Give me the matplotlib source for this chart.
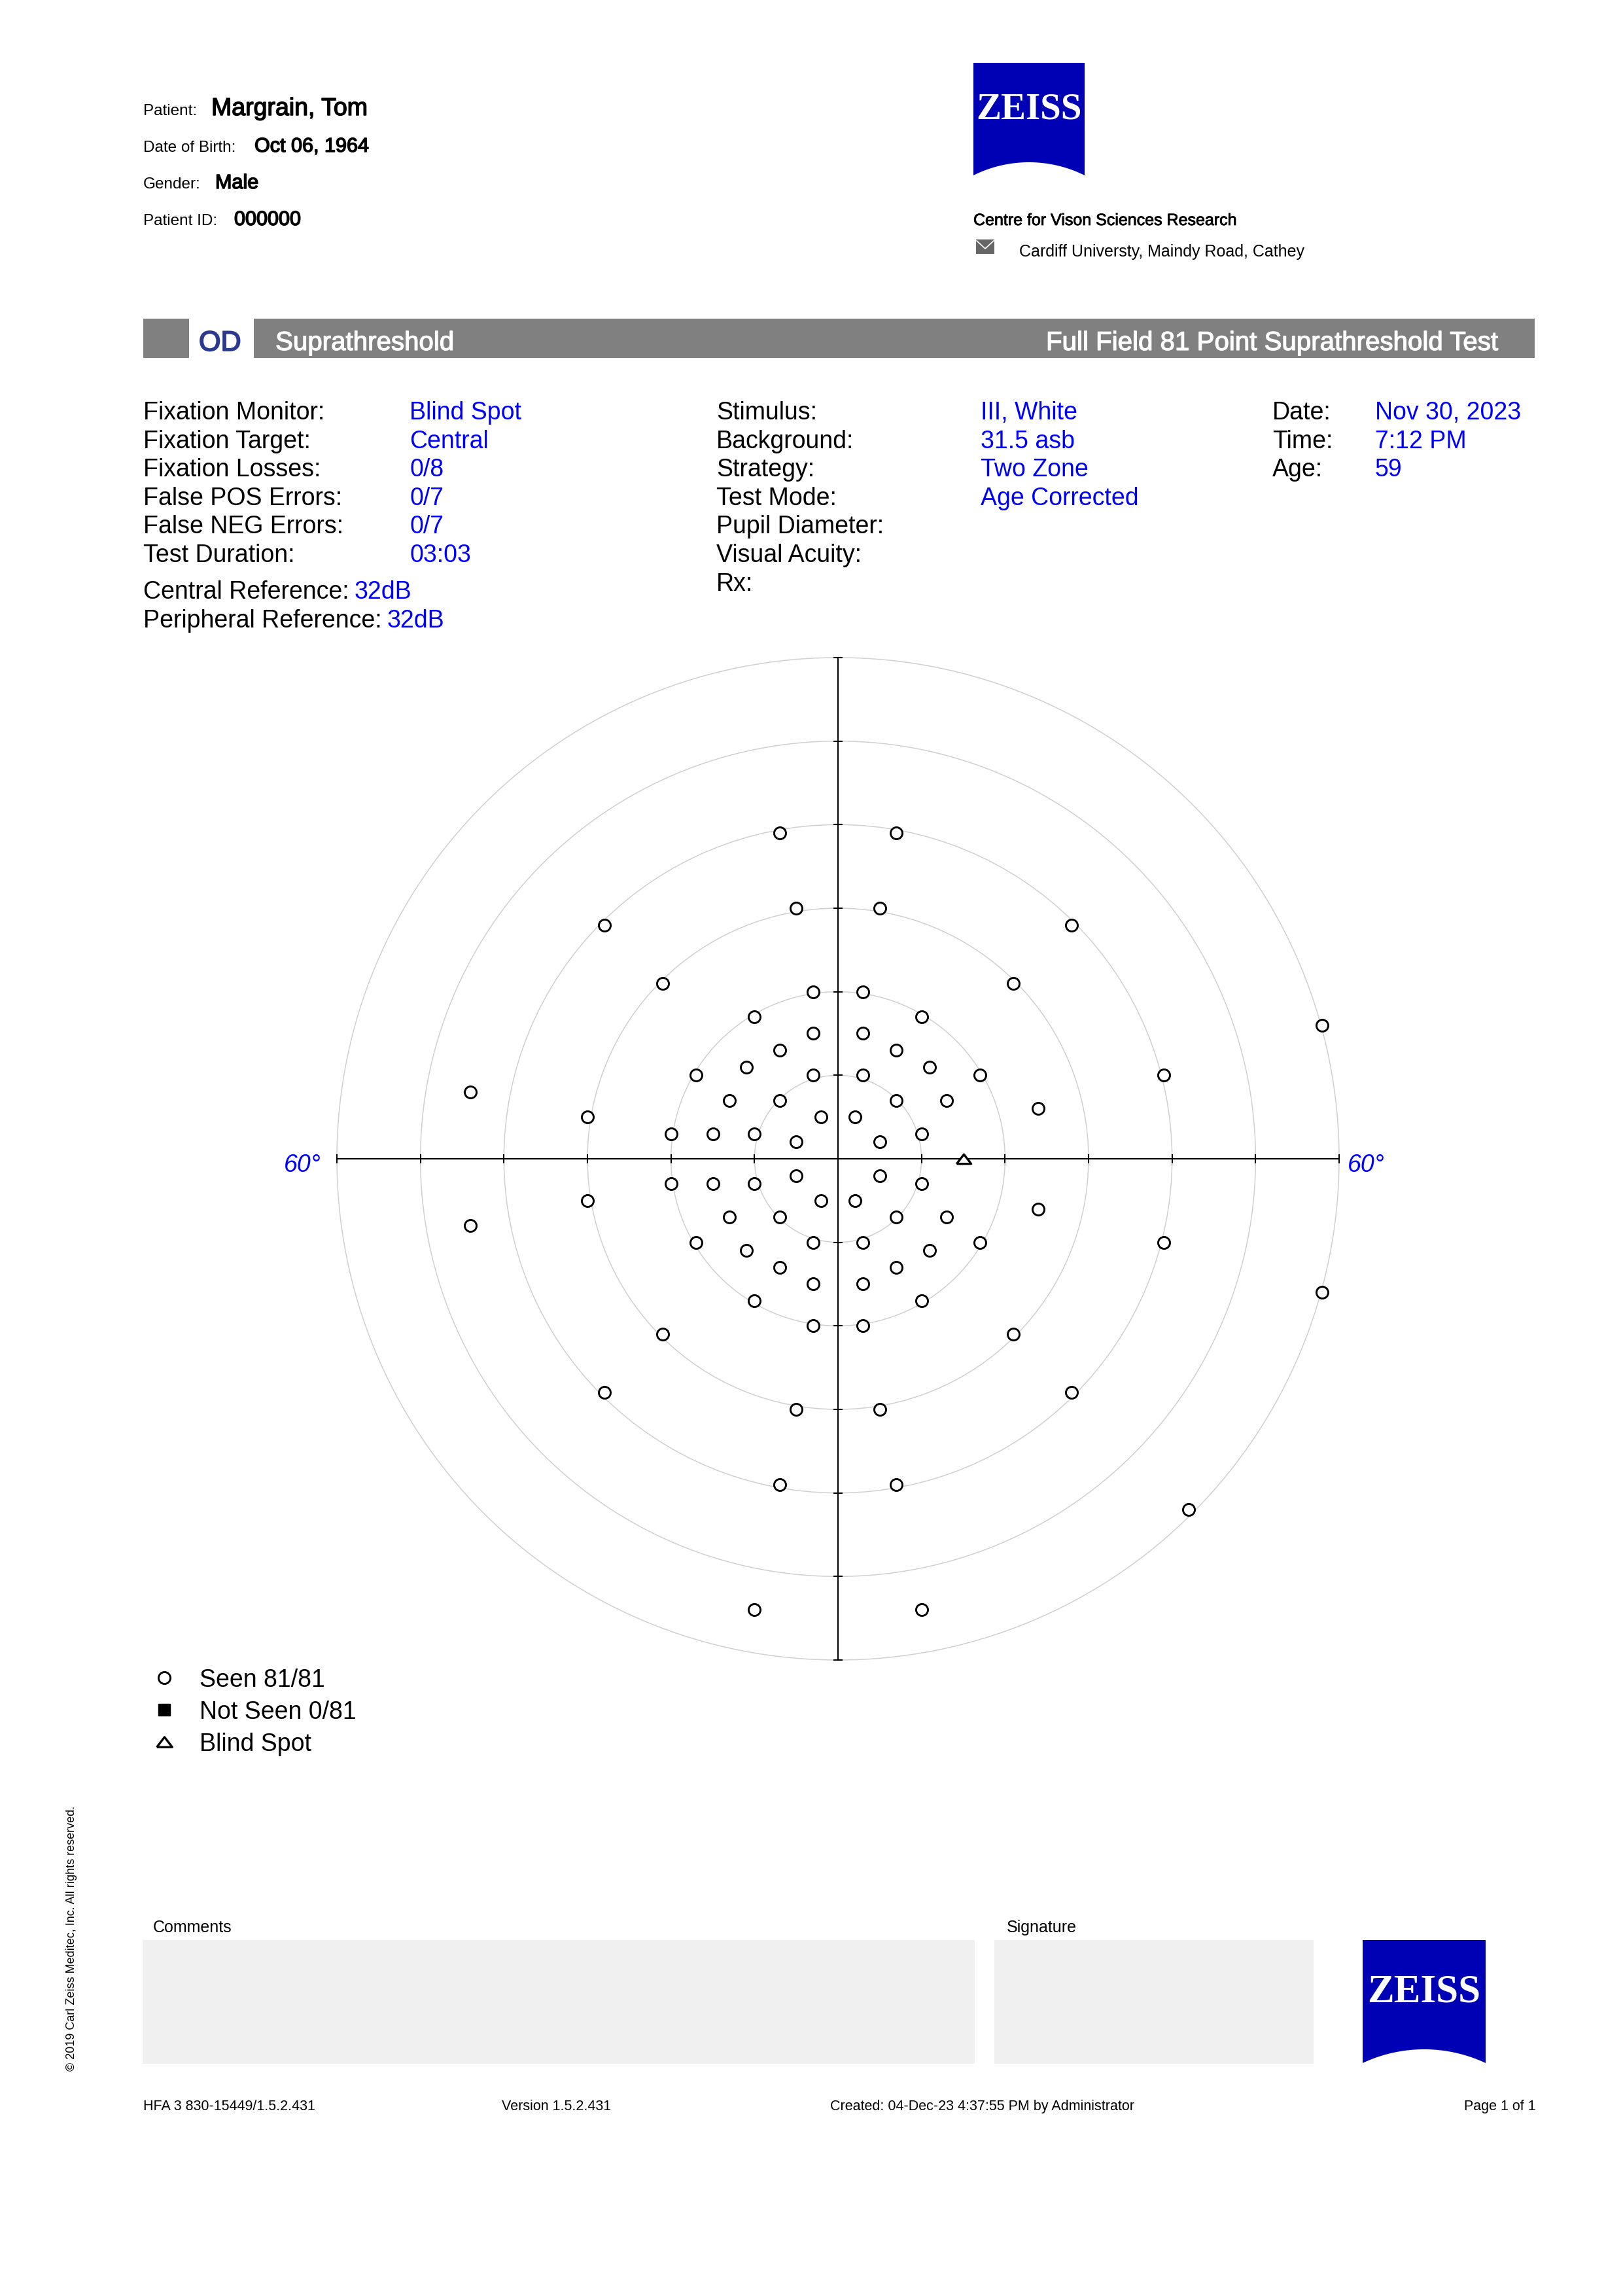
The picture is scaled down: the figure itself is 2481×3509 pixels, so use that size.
import numpy as np
import matplotlib
matplotlib.use("Agg")
import matplotlib.pyplot as plt
import matplotlib.patheffects as pe
from matplotlib.patches import Rectangle, Polygon, Circle

plt.rcParams['font.family'] = ['Liberation Sans', 'DejaVu Sans']

W, H = 2481, 3509
VAL_BLUE = '#0000ff'
ZEISS_BLUE = '#0000b4'
BAR_GREY = '#808080'
OD_BLUE = '#2b3a8f'

# --- report data ---
patient_labels = ["Patient:", "Date of Birth:", "Gender:", "Patient ID:"]
patient_values = ["Margrain, Tom", "Oct 06, 1964", "Male", "000000"]

centre_name = "Centre for Vison Sciences Research"
centre_addr = "Cardiff Universty, Maindy Road, Cathey"

eye = "OD"
test_type = "Suprathreshold"
test_name = "Full Field 81 Point Suprathreshold Test"

col1_labels = ["Fixation Monitor:", "Fixation Target:", "Fixation Losses:",
               "False POS Errors:", "False NEG Errors:", "Test Duration:"]
col1_values = ["Blind Spot", "Central", "0/8", "0/7", "0/7", "03:03"]
col2_labels = ["Stimulus:", "Background:", "Strategy:", "Test Mode:",
               "Pupil Diameter:", "Visual Acuity:", "Rx:"]
col2_values = ["III, White", "31.5 asb", "Two Zone", "Age Corrected", "", "", ""]
col3_labels = ["Date:", "Time:", "Age:"]
col3_values = ["Nov 30, 2023", "7:12 PM", "59"]
ref_labels = ["Central Reference:", "Peripheral Reference:"]
ref_values = ["32dB", "32dB"]

# test point locations in degrees (all seen)
seen_x = [-5, -2, -10, -15, -20, -7, -13, -3, -11, -17, -7, -3, -10, -3, -21,
          5, 2, 10, 7, 13, 3, 11, 17, 7, 3, 10, 3, 21,
          -5, -2, -10, -15, -20, -7, -13, -3, -11, -17, -7, -3, -10, -3, -21,
          5, 2, 10, 7, 13, 3, 11, 17, 7, 3, 10, 3, 21,
          -7, 7, -5, 5, -28, 28, 58, -44, 39, 24, -30,
          -30, 24, -44, 39, 58, -28, 28, -5, 5, -7, 7, 42, -10, 10]
seen_y = [2, 5, 3, 3, 3, 7, 7, 10, 11, 10, 13, 15, 17, 20, 21,
          2, 5, 3, 7, 7, 10, 11, 10, 13, 15, 17, 20, 21,
          -2, -5, -3, -3, -3, -7, -7, -10, -11, -10, -13, -15, -17, -20, -21,
          -2, -5, -3, -7, -7, -10, -11, -10, -13, -15, -17, -20, -21,
          39, 39, 30, 30, 28, 28, 16, 8, 10, 6, 5,
          -5, -6, -8, -10, -16, -28, -28, -30, -30, -39, -39, -42, -54, -54]
blind_x = [15]
blind_y = [0]
ring_radii = [10, 20, 30, 40, 50, 60]

legend_labels = ["Seen 81/81", "Not Seen 0/81", "Blind Spot"]
footer = ["HFA 3 830-15449/1.5.2.431", "Version 1.5.2.431",
          "Created: 04-Dec-23 4:37:55 PM by Administrator", "Page 1 of 1"]
copyright_txt = "\u00a9 2019 Carl Zeiss Meditec, Inc. All rights reserved."

TRI = [(-1, -0.65), (1, -0.65), (0, 0.65), (-1, -0.65)]


def heavy(color, w):
    # slightly heavier glyphs, like the printed report
    return [pe.withStroke(linewidth=w, foreground=color)]


def zeiss_logo(ax, x0, y0, w, h, arc_h, base_y, fs):
    c = w / 2
    R = (c ** 2 + arc_h ** 2) / (2 * arc_h)
    cx, cy = x0 + c, y0 + h - arc_h + R
    xs = np.linspace(x0 + w, x0, 80)
    ys = cy - np.sqrt(np.clip(R ** 2 - (xs - cx) ** 2, 0, None))
    verts = [(x0, y0), (x0 + w, y0)] + list(zip(xs, ys))
    ax.add_patch(Polygon(verts, closed=True, fc=ZEISS_BLUE, ec='none'))
    ax.text(cx, base_y, "ZEISS", color='white', fontsize=fs, fontweight='bold',
            family='Liberation Serif', ha='center', va='baseline')


fig = plt.figure(figsize=(W / 100, H / 100), dpi=100)
page = fig.add_axes([0, 0, 1, 1])
page.set_xlim(0, W)
page.set_ylim(H, 0)
page.axis('off')

# header: patient block
hdr_base = [176, 232, 288, 344]
hdr_val_x = [323, 389, 329, 358]
hdr_val_fs = [27, 22, 22, 22]
for i in range(4):
    page.text(219, hdr_base[i], patient_labels[i], fontsize=17.5, va='baseline')
    page.text(hdr_val_x[i], hdr_base[i], patient_values[i], fontsize=hdr_val_fs[i],
              va='baseline', path_effects=heavy('black', 1.1))

zeiss_logo(page, 1488, 96, 170, 172, 20, 182, 41)
page.text(1488, 344, centre_name, fontsize=18, va='baseline', path_effects=heavy('black', 0.6))
page.add_patch(Rectangle((1492, 366), 28, 22, fc='#666666', ec='none'))
page.plot([1493, 1506, 1519], [368, 380, 368], color='white', lw=1.2)
page.text(1558, 392, centre_addr, fontsize=18, va='baseline')

# title bar
page.add_patch(Rectangle((219, 487), 70, 60, fc=BAR_GREY, ec='none'))
page.add_patch(Rectangle((388, 487), 1958, 60, fc=BAR_GREY, ec='none'))
page.text(304, 536, eye, fontsize=31, color=OD_BLUE, va='baseline',
          path_effects=heavy(OD_BLUE, 1.3))
page.text(421, 535, test_type, fontsize=29, color='white', va='baseline',
          path_effects=heavy('white', 0.9))
page.text(2290, 535, test_name, fontsize=29, color='white', va='baseline', ha='right',
          path_effects=heavy('white', 0.9))

# test parameters
row0, dy = 641, 43.6
for i, (lab, val) in enumerate(zip(col1_labels, col1_values)):
    page.text(219, row0 + i * dy, lab, fontsize=27, va='baseline')
    page.text(626, row0 + i * dy, val, fontsize=27, va='baseline', color=VAL_BLUE)
for i, (lab, val) in enumerate(zip(col2_labels, col2_values)):
    page.text(1095, row0 + i * dy, lab, fontsize=27, va='baseline')
    page.text(1499, row0 + i * dy, val, fontsize=27, va='baseline', color=VAL_BLUE)
for i, (lab, val) in enumerate(zip(col3_labels, col3_values)):
    page.text(1945, row0 + i * dy, lab, fontsize=27, va='baseline')
    page.text(2102, row0 + i * dy, val, fontsize=27, va='baseline', color=VAL_BLUE)
for i, (lab, val) in enumerate(zip(ref_labels, ref_values)):
    t = page.text(219, 915 + i * 44, lab, fontsize=27, va='baseline')
    page.annotate(val, xy=(1, 0), xycoords=t, xytext=(6, 0), textcoords='offset points',
                  fontsize=27, color=VAL_BLUE, va='bottom', ha='left')

# visual field plot
cx, cy, rad = 1281, 1771, 766
ax = fig.add_axes([(cx - rad) / W, (H - cy - rad) / H, 2 * rad / W, 2 * rad / H])
ax.set_xlim(-60, 60)
ax.set_ylim(-60, 60)
ax.patch.set_alpha(0)
for r in ring_radii:
    ax.add_patch(Circle((0, 0), r, fill=False, ec='#d0d0d0', lw=1.1, clip_on=False))
for s in ['top', 'right']:
    ax.spines[s].set_visible(False)
for s in ['left', 'bottom']:
    ax.spines[s].set_position('zero')
    ax.spines[s].set_linewidth(1.5)
ticks = [-60, -50, -40, -30, -20, -10, 10, 20, 30, 40, 50, 60]
ax.set_xticks(ticks)
ax.set_yticks(ticks)
ax.tick_params(direction='inout', length=9.5, width=1.5, labelbottom=False, labelleft=False)
ax.plot(seen_x, seen_y, ls='none', marker='o', ms=13, mfc='white', mec='black', mew=2.1,
        clip_on=False, zorder=5)
ax.plot(blind_x, blind_y, ls='none', marker=TRI, ms=16, mfc='white', mec='black', mew=2.4,
        clip_on=False, zorder=5)

page.text(491, 1791, "60\u00b0", fontsize=27, style='italic', color=VAL_BLUE, ha='right', va='baseline')
page.text(2060, 1791, "60\u00b0", fontsize=27, style='italic', color=VAL_BLUE, ha='left', va='baseline')

# legend
leg_y = [2564, 2613, 2662]
page.plot([251], [leg_y[0]], marker='o', ms=13, mfc='white', mec='black', mew=2.1)
page.plot([251], [leg_y[1]], marker='s', ms=13, mfc='black', mec='black', mew=1)
page.plot([251], [leg_y[2]], marker=TRI, ms=17, mfc='white', mec='black', mew=2.4)
for y, lab in zip(leg_y, legend_labels):
    page.text(305, y + 13.5, lab, fontsize=27, va='baseline')

# comments / signature
page.text(234, 2953, "Comments", fontsize=18, va='baseline')
page.text(1539, 2953, "Signature", fontsize=18, va='baseline')
page.add_patch(Rectangle((218, 2965), 1272, 189, fc='#f0f0f0', ec='none'))
page.add_patch(Rectangle((1520, 2965), 488, 189, fc='#f0f0f0', ec='none'))
zeiss_logo(page, 2083, 2965, 188, 188, 21, 3059, 44)

page.text(110, 2962, copyright_txt, fontsize=13, rotation=90, ha='center', va='center')

# footer
page.text(219, 3225, footer[0], fontsize=15.5, va='baseline')
page.text(767, 3225, footer[1], fontsize=15.5, va='baseline')
page.text(1269, 3225, footer[2], fontsize=15.5, va='baseline')
page.text(2348, 3225, footer[3], fontsize=15.5, va='baseline', ha='right')

fig.savefig("out.png", dpi=100)
